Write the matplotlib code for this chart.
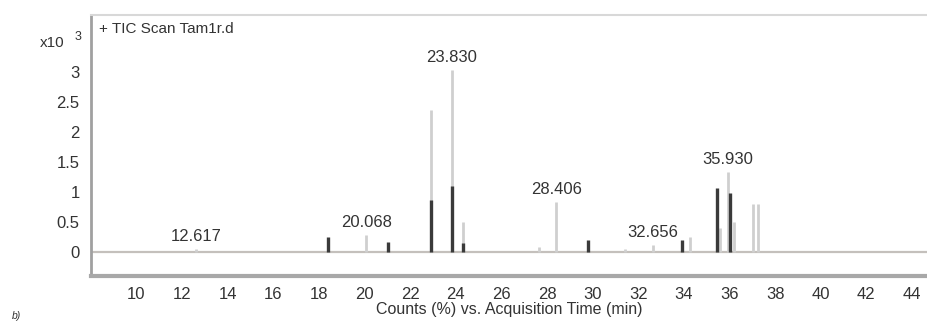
import matplotlib.pyplot as plt

plt.rcParams['font.family'] = ['Liberation Sans', 'DejaVu Sans']

# retention time (min) and height (x10^3 counts) for the light trace
gray_rt = [12.62, 20.07, 22.90, 23.83, 24.30, 27.65, 28.41, 31.40, 32.66, 34.25, 35.60, 35.93, 36.20, 37.02, 37.24]
gray_h = [0.05, 0.28, 2.37, 3.03, 0.50, 0.08, 0.83, 0.05, 0.12, 0.25, 0.40, 1.33, 0.50, 0.80, 0.80]

# dark overlaid trace
dark_rt = [18.38, 21.05, 22.90, 23.83, 24.30, 29.80, 33.90, 35.45, 36.02]
dark_h = [0.25, 0.17, 0.87, 1.10, 0.15, 0.20, 0.20, 1.07, 0.98]

# labelled peaks
label_rt = [12.617, 20.068, 23.830, 28.406, 32.656, 35.930]
label_h = [0.05, 0.28, 3.03, 0.83, 0.12, 1.33]

x_ticks = list(range(10, 46, 2))
y_ticks = [0, 0.5, 1, 1.5, 2, 2.5, 3]

fig = plt.figure(figsize=(9.27, 3.23), dpi=100)
ax = fig.add_axes([0.098, 0.1455, 0.902, 0.808])

ax.axhline(0, color='#c4c0bc', lw=1.6, zorder=1)
ax.vlines(gray_rt, 0, gray_h, colors='#cfcfcf', lw=2, zorder=2)
ax.vlines(dark_rt, 0, dark_h, colors='#3a3a3a', lw=2.4, zorder=3)

for rt, h in zip(label_rt, label_h):
    ax.text(rt, h + 0.08, f'{rt:.3f}', ha='center', va='bottom',
            fontsize=12, color='#333333')

ax.set_xlim(8, 44.66)
ax.set_ylim(-0.4, 3.95)
ax.set_xticks(x_ticks)
ax.set_yticks(y_ticks)
ax.set_yticklabels(['0', '0.5', '1', '1.5', '2', '2.5', '3'])
ax.tick_params(axis='both', length=0, labelsize=12, labelcolor='#333333')
ax.tick_params(axis='x', pad=8)
ax.tick_params(axis='y', pad=8)

ax.spines['right'].set_visible(False)
ax.spines['top'].set_color('#d8d8d8')
ax.spines['top'].set_linewidth(1.5)
ax.spines['left'].set_color('#a0a0a0')
ax.spines['left'].set_linewidth(2)
ax.spines['bottom'].set_color('#a8a8a8')
ax.spines['bottom'].set_linewidth(3)

ax.set_xlabel('Counts (%) vs. Acquisition Time (min)', fontsize=11.5,
              color='#333333', labelpad=0)

ax.text(0.01, 0.945, '+ TIC Scan Tam1r.d', transform=ax.transAxes,
        fontsize=11, color='#333333', va='center')
fig.text(40 / 927, 1 - 43 / 323, 'x10', fontsize=11, color='#333333', va='center')
fig.text(75 / 927, 1 - 37 / 323, '3', fontsize=9, color='#333333', va='center')
fig.text(12 / 927, 1 - 316 / 323, 'b)', fontsize=7.5, style='italic',
         color='#333333', va='center')

fig.savefig('out.png', dpi=100)
